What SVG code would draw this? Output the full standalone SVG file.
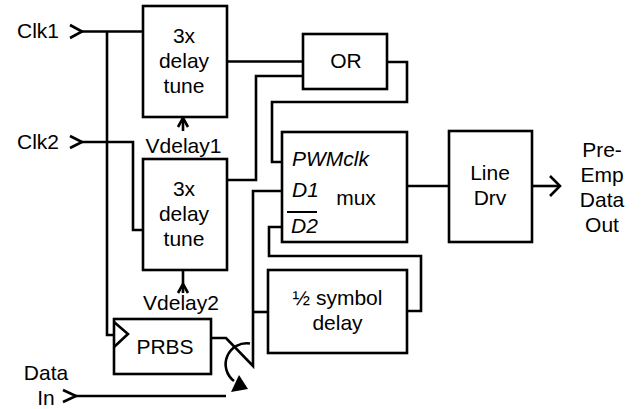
<svg xmlns="http://www.w3.org/2000/svg" width="644" height="409" viewBox="0 0 644 409">
<style>
.box{fill:#fff;stroke:#000;stroke-width:2.6}
.w{fill:none;stroke:#000;stroke-width:2.6;stroke-linejoin:miter;stroke-linecap:butt}
.t{font-family:"Liberation Sans",Arial,sans-serif;font-size:21px;fill:#000;text-anchor:middle}
.l{text-anchor:start}
.i{font-style:italic}
</style>
<rect width="644" height="409" fill="#fff"/>
<g id="connectors">
  <!-- Clk1 -->
  <polyline class="w" points="70,25 82,31.5 70,38"/>
  <line class="w" x1="81" y1="31.5" x2="143" y2="31.5"/>
  <polyline class="w" points="107,31.5 107,335 114,335"/>
  <!-- Clk2 -->
  <polyline class="w" points="70,136 82,142 70,148"/>
  <polyline class="w" points="81,142 133,142 133,230 143,230"/>
  <!-- delay1 to OR -->
  <line class="w" x1="227" y1="61.5" x2="303" y2="61.5"/>
  <!-- delay2 to OR -->
  <polyline class="w" points="227,180 256,180 256,76 303,76"/>
  <!-- OR to PWMclk -->
  <polyline class="w" points="387,62 407,62 407,102 272,102 272,162 282,162"/>
  <!-- PRBS out to D1 via switch -->
  <polyline class="w" points="211,338 226,338 253,366 253,191 282,191"/>
  <line class="w" x1="253" y1="312" x2="268" y2="312"/>
  <!-- half delay to D2 -->
  <polyline class="w" points="407,311 421,311 421,256 269,256 269,227 282,227"/>
  <!-- mux to line drv -->
  <line class="w" x1="407" y1="186" x2="449" y2="186"/>
  <!-- output -->
  <line class="w" x1="532" y1="186" x2="559" y2="186"/>
  <polyline class="w" points="550,176 560,186 550,196"/>
  <!-- Data In -->
  <polyline class="w" points="63,390 76,396 63,402"/>
  <line class="w" x1="75" y1="396" x2="226" y2="396"/>
  <!-- switch arc -->
  <path class="w" d="M250,343.5 A21,21 0 0 0 234,381"/>
  <polygon points="231,392 248,389 239,375" fill="#000"/>
  <!-- Vdelay arrows -->
  <line class="w" x1="183" y1="118" x2="183" y2="131"/>
  <polyline class="w" points="178,127 183,118 188,127" stroke-width="2"/>
  <line class="w" x1="183" y1="270" x2="183" y2="293"/>
  <polyline class="w" points="178,293 183,284 188,293" stroke-width="2"/>
</g>
<g id="delay1">
  <rect class="box" x="143" y="6" width="84" height="111"/>
  <text class="t" x="184" y="43">3x</text>
  <text class="t" x="184" y="68">delay</text>
  <text class="t" x="184" y="93">tune</text>
</g>
<g id="vdelay1"><text class="t" x="183.5" y="153">Vdelay1</text></g>
<g id="delay2">
  <rect class="box" x="143" y="159" width="84" height="111"/>
  <text class="t" x="184" y="196">3x</text>
  <text class="t" x="184" y="221">delay</text>
  <text class="t" x="184" y="246">tune</text>
</g>
<g id="vdelay2"><text class="t" x="181" y="310">Vdelay2</text></g>
<g id="or">
  <rect class="box" x="303" y="34" width="84" height="55"/>
  <text class="t" x="346" y="68">OR</text>
</g>
<g id="mux">
  <rect class="box" x="282" y="132" width="125" height="110"/>
  <text class="t l i" x="292" y="166">PWMclk</text>
  <text class="t l i" x="292" y="197">D1</text>
  <text class="t" x="356" y="205">mux</text>
  <line x1="287" y1="212" x2="317" y2="212" stroke="#000" stroke-width="2"/>
  <text class="t l i" x="291" y="233">D2</text>
</g>
<g id="halfdelay">
  <rect class="box" x="268" y="270" width="139" height="83"/>
  <text class="t" x="337.5" y="305">½ symbol</text>
  <text class="t" x="337.5" y="330">delay</text>
</g>
<g id="prbs">
  <rect class="box" x="114" y="319" width="97" height="55"/>
  <polyline class="w" points="114,322 128,334 114,347"/>
  <text class="t" x="165" y="354">PRBS</text>
</g>
<g id="linedrv">
  <rect class="box" x="449" y="131" width="83" height="111"/>
  <text class="t" x="490" y="180">Line</text>
  <text class="t" x="490" y="205">Drv</text>
</g>
<g id="clk1"><text class="t" x="38" y="38">Clk1</text></g>
<g id="clk2"><text class="t" x="38" y="149">Clk2</text></g>
<g id="datain">
  <text class="t" x="46" y="380">Data</text>
  <text class="t" x="46" y="405">In</text>
</g>
<g id="out">
  <text class="t" x="602" y="157">Pre-</text>
  <text class="t" x="602" y="182">Emp</text>
  <text class="t" x="602" y="207">Data</text>
  <text class="t" x="602" y="232">Out</text>
</g>
</svg>
